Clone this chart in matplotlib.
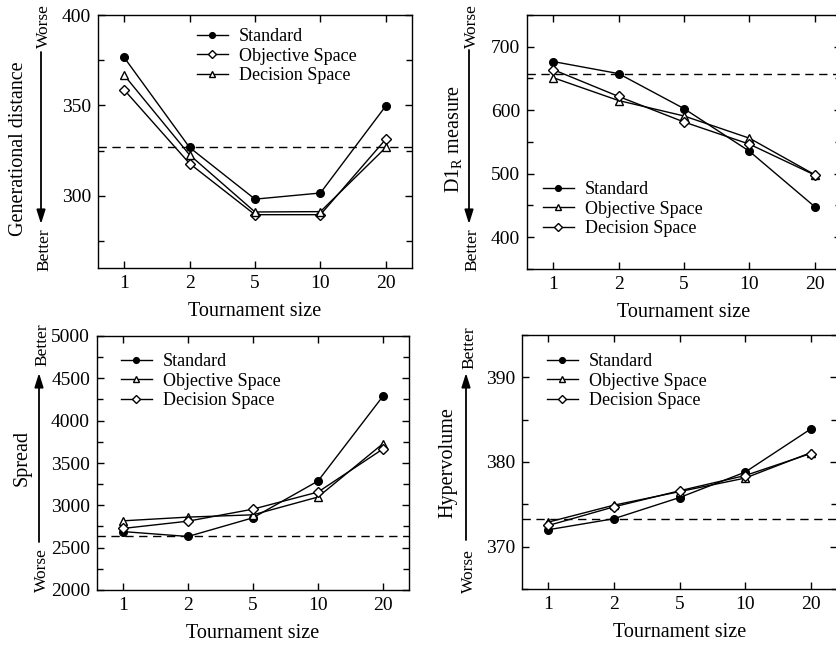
import matplotlib
matplotlib.use("Agg")
import matplotlib.pyplot as plt
from matplotlib.ticker import MultipleLocator
from matplotlib.patches import FancyArrowPatch

plt.rcParams['font.family'] = ['Liberation Serif', 'DejaVu Serif']
plt.rcParams['mathtext.fontset'] = 'custom'
plt.rcParams['mathtext.rm'] = 'Liberation Serif'
plt.rcParams['mathtext.it'] = 'Liberation Serif:italic'

tsizes = ['1', '2', '5', '10', '20']

gd_standard = [376.5, 326.7, 298.1, 301.5, 349.7]
gd_objective = [358.6, 317.8, 289.5, 289.5, 331.3]
gd_decision = [366.7, 322.6, 291.0, 291.2, 326.7]

d1r_standard = [676.7, 657.7, 602.6, 535.4, 448.0]
d1r_objective = [651.3, 615.3, 591.0, 556.0, 498.4]
d1r_decision = [664.0, 621.7, 581.5, 546.6, 497.9]

spread_standard = [2690, 2632, 2853, 3287, 4290]
spread_objective = [2817, 2861, 2888, 3098, 3729]
spread_decision = [2727, 2813, 2955, 3157, 3666]

hv_standard = [372.0, 373.3, 375.8, 378.8, 383.9]
hv_objective = [372.9, 374.9, 376.5, 378.1, 381.1]
hv_decision = [372.5, 374.7, 376.6, 378.4, 381.0]

W, H = 836, 647
fig = plt.figure(figsize=(W / 100, H / 100), dpi=100)


def rect(l, t, r, b):
    return [l / W, 1 - b / H, (r - l) / W, (b - t) / H]


def fxy(x, y):
    return (x / W, 1 - y / H)


def panel(box, std, obj, dec, obj_marker, dec_marker, ylim, major, minor,
          leg_xy):
    ax = fig.add_axes(rect(*box))
    x = range(len(tsizes))
    # reference level: standard operator with binary tournament
    ax.axhline(std[1], color='k', lw=1, ls=(0, (6, 4)), zorder=1)
    ax.plot(x, std, '-o', color='k', lw=1, ms=5.5, mfc='k', label='Standard', zorder=3)
    ax.plot(x, obj, '-', marker=obj_marker, color='k', lw=1,
            ms=5.5 if obj_marker == '^' else 5, mfc='white',
            label='Objective Space', zorder=3)
    ax.plot(x, dec, '-', marker=dec_marker, color='k', lw=1,
            ms=5.5 if dec_marker == '^' else 5, mfc='white',
            label='Decision Space', zorder=3)
    ax.set_xlim(-0.4, 4.4)
    ax.set_ylim(*ylim)
    ax.set_xticks(list(x))
    ax.set_xticklabels(tsizes)
    ax.yaxis.set_major_locator(MultipleLocator(major))
    ax.yaxis.set_minor_locator(MultipleLocator(minor))
    ax.tick_params(which='both', direction='in', top=True, right=True,
                   labelsize=14, width=1, pad=5)
    ax.tick_params(which='major', length=5)
    ax.tick_params(which='minor', length=4)
    ax.tick_params(axis='x', which='minor', top=False, bottom=False)
    for s in ax.spines.values():
        s.set_linewidth(1)
    ax.set_xlabel('Tournament size', fontsize=14.5, labelpad=7)
    ax.legend(loc='upper left', bbox_to_anchor=fxy(*leg_xy),
              bbox_transform=fig.transFigure, frameon=False, fontsize=13,
              borderpad=0, borderaxespad=0, labelspacing=0.15,
              handlelength=1.7, handletextpad=0.6, markerscale=0.75)
    return ax


def side_label(text, lx, ly, ax_x, y_top, y_bot, down, top_txt, bot_txt,
               top_y, bot_y):
    fig.text(*fxy(lx, ly), text, rotation=90, ha='center', va='center',
             fontsize=14.5)
    fig.text(*fxy(ax_x + 3, top_y), top_txt, rotation=90, ha='center',
             va='center', fontsize=12.5)
    fig.text(*fxy(ax_x + 3, bot_y), bot_txt, rotation=90, ha='center',
             va='center', fontsize=12.5)
    a, b = fxy(ax_x, y_top), fxy(ax_x, y_bot)
    if not down:
        a, b = b, a
    fig.add_artist(FancyArrowPatch(a, b, transform=fig.transFigure,
                                   arrowstyle='-|>,head_length=0.7,head_width=0.22',
                                   mutation_scale=12, lw=1.3, color='k',
                                   shrinkA=0, shrinkB=0))


# Generational distance
panel((98, 15, 412, 268), gd_standard, gd_objective, gd_decision, 'D', '^',
      (260, 400), 50, 25, (197, 28))
side_label('Generational distance', 19, 149, 41, 52, 224, True,
           'Worse', 'Better', 26, 250)

# D1_R measure
panel((527, 15, 841, 269), d1r_standard, d1r_objective, d1r_decision, '^', 'D',
      (350, 750), 100, 50, (543, 181))
side_label(r'D1$_{\mathrm{R}}$ measure', 453, 139, 469, 50, 224, True,
           'Worse', 'Better', 26, 250)

# Spread
panel((97, 336, 409, 590), spread_standard, spread_objective, spread_decision,
      '^', 'D', (2000, 5000), 500, 250, (121, 353))
side_label('Spread', 22, 458, 39, 373, 542, False,
           'Better', 'Worse', 345, 570)

# Hypervolume
panel((522, 335, 837, 589), hv_standard, hv_objective, hv_decision, '^', 'D',
      (365, 395), 10, 5, (547, 353))
side_label('Hypervolume', 448, 463, 466, 373, 540, False,
           'Better', 'Worse', 348, 571)

fig.savefig('out.png', dpi=100)
